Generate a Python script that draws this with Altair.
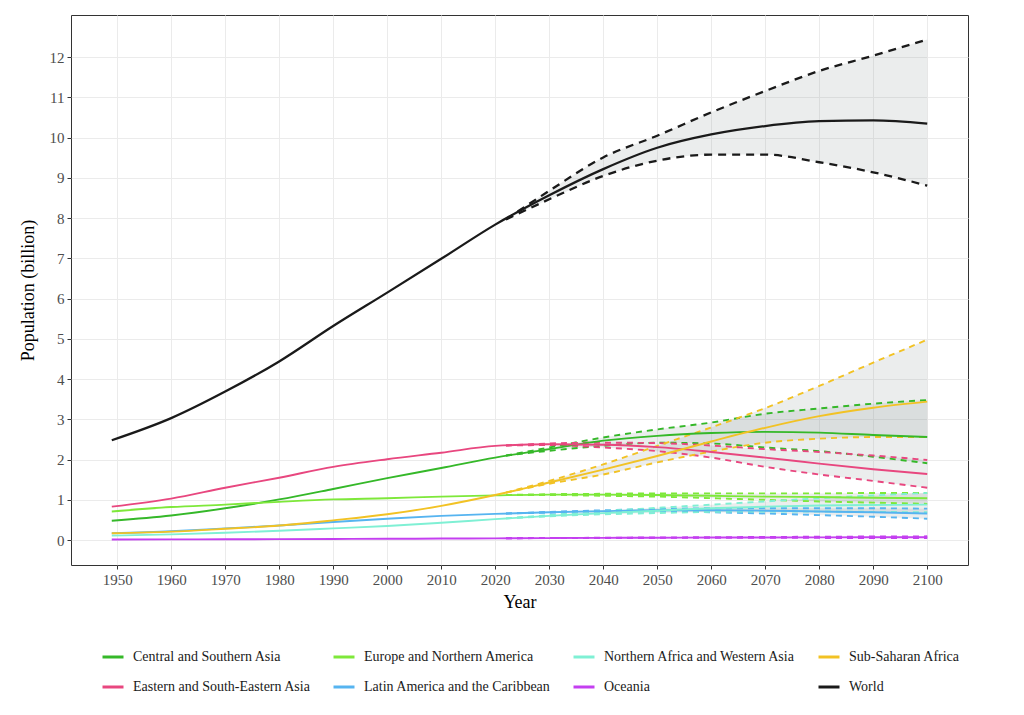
import altair as alt
import pandas as pd

# ---------------- data (billions) ----------------
series_order = [
    "Central and Southern Asia", "Eastern and South-Eastern Asia",
    "Europe and Northern America", "Latin America and the Caribbean",
    "Northern Africa and Western Asia", "Oceania",
    "Sub-Saharan Africa", "World",
]
series_colors = ["#35b829", "#e8477f", "#7ee83a", "#56b4f0",
                 "#7ff0d4", "#c43ff0", "#f2c224", "#1a1a1a"]

years_med = [1949, 1960, 1970, 1980, 1990, 2000, 2010, 2020,
             2030, 2040, 2050, 2060, 2070, 2080, 2090, 2100]
years_band = [2022, 2030, 2040, 2050, 2060, 2070, 2080, 2090, 2100]

world_med = [2.48, 3.03, 3.69, 4.44, 5.32, 6.15, 6.99, 7.84,
             8.57, 9.22, 9.75, 10.08, 10.29, 10.41, 10.43, 10.35]
world_up = [7.97, 8.68, 9.51, 10.05, 10.63, 11.16, 11.66, 12.04, 12.44]
world_lo = [7.97, 8.47, 9.05, 9.43, 9.58, 9.58, 9.39, 9.14, 8.81]

csa_med = [0.48, 0.61, 0.79, 1.01, 1.27, 1.54, 1.79, 2.05,
           2.26, 2.47, 2.59, 2.66, 2.69, 2.67, 2.61, 2.56]
csa_up = [2.10, 2.30, 2.55, 2.75, 2.92, 3.14, 3.27, 3.39, 3.48]
csa_lo = [2.10, 2.22, 2.34, 2.42, 2.40, 2.30, 2.21, 2.07, 1.91]

esa_med = [0.83, 1.03, 1.30, 1.55, 1.82, 2.01, 2.17, 2.34,
           2.38, 2.37, 2.31, 2.19, 2.05, 1.90, 1.76, 1.64]
esa_up = [2.35, 2.40, 2.42, 2.41, 2.35, 2.26, 2.19, 2.10, 1.99]
esa_lo = [2.35, 2.36, 2.30, 2.21, 2.05, 1.82, 1.63, 1.47, 1.30]

ena_med = [0.71, 0.82, 0.88, 0.95, 1.01, 1.04, 1.08, 1.11,
           1.13, 1.13, 1.12, 1.10, 1.08, 1.07, 1.05, 1.04]
ena_up = [1.12, 1.14, 1.15, 1.16, 1.16, 1.16, 1.16, 1.17, 1.17]
ena_lo = [1.12, 1.12, 1.10, 1.08, 1.04, 1.00, 0.96, 0.93, 0.90]

lac_med = [0.17, 0.22, 0.29, 0.36, 0.45, 0.53, 0.60, 0.65,
           0.69, 0.72, 0.74, 0.74, 0.73, 0.71, 0.69, 0.66]
lac_up = [0.66, 0.70, 0.74, 0.77, 0.79, 0.79, 0.79, 0.79, 0.78]
lac_lo = [0.66, 0.68, 0.70, 0.71, 0.69, 0.66, 0.62, 0.58, 0.53]

nawa_med = [0.11, 0.14, 0.18, 0.23, 0.29, 0.35, 0.43, 0.52,
            0.60, 0.67, 0.73, 0.79, 0.83, 0.86, 0.87, 0.88]
nawa_up = [0.54, 0.62, 0.72, 0.80, 0.88, 0.96, 1.04, 1.11, 1.17]
nawa_lo = [0.54, 0.59, 0.64, 0.67, 0.70, 0.71, 0.71, 0.70, 0.69]

ssa_med = [0.17, 0.21, 0.28, 0.36, 0.49, 0.64, 0.85, 1.12,
           1.43, 1.75, 2.09, 2.45, 2.79, 3.08, 3.29, 3.44]
ssa_up = [1.18, 1.47, 1.88, 2.34, 2.80, 3.28, 3.83, 4.41, 4.98]
ssa_lo = [1.18, 1.40, 1.63, 1.93, 2.20, 2.42, 2.52, 2.56, 2.56]

oce_med = [0.013, 0.016, 0.020, 0.023, 0.027, 0.031, 0.037, 0.043,
           0.049, 0.054, 0.058, 0.062, 0.065, 0.067, 0.068, 0.069]
oce_up = [0.045, 0.051, 0.058, 0.065, 0.071, 0.077, 0.083, 0.088, 0.093]
oce_lo = [0.045, 0.048, 0.051, 0.053, 0.054, 0.054, 0.053, 0.052, 0.050]

x_ticks = list(range(1950, 2101, 10))
y_ticks = list(range(0, 13))

# ---------------- tables ----------------
series_data = {
    "Central and Southern Asia": (csa_med, csa_lo, csa_up),
    "Eastern and South-Eastern Asia": (esa_med, esa_lo, esa_up),
    "Europe and Northern America": (ena_med, ena_lo, ena_up),
    "Latin America and the Caribbean": (lac_med, lac_lo, lac_up),
    "Northern Africa and Western Asia": (nawa_med, nawa_lo, nawa_up),
    "Oceania": (oce_med, oce_lo, oce_up),
    "Sub-Saharan Africa": (ssa_med, ssa_lo, ssa_up),
    "World": (world_med, world_lo, world_up),
}

med_rows, band_rows = [], []
for name, (med, lo, up) in series_data.items():
    for yr, v in zip(years_med, med):
        med_rows.append({"series": name, "year": yr, "value": v})
    for yr, l, u in zip(years_band, lo, up):
        band_rows.append({"series": name, "year": yr, "lower": l, "upper": u})
med_df = pd.DataFrame(med_rows)
band_df = pd.DataFrame(band_rows)

FONT = "Liberation Serif"

x_enc = alt.X("year:Q",
              scale=alt.Scale(domain=[1941.45, 2107.55], nice=False, zero=False),
              axis=alt.Axis(values=x_ticks, format="d", title="Year"))
y_scale = alt.Scale(domain=[-0.62, 13.05], nice=False, zero=False)
color_scale = alt.Scale(domain=series_order, range=series_colors)

is_world = alt.datum.series == "World"

band = alt.Chart(band_df).mark_area(
    interpolate="monotone", color="#8a9696", opacity=0.17
).encode(
    x=x_enc,
    y=alt.Y("lower:Q", scale=y_scale,
            axis=alt.Axis(values=y_ticks, title="Population (billion)")),
    y2="upper:Q",
    detail="series:N",
)

def dashed(field):
    return alt.Chart(band_df).mark_line(interpolate="monotone").encode(
        x=x_enc,
        y=alt.Y(f"{field}:Q", scale=y_scale),
        stroke=alt.Stroke("series:N", scale=color_scale, legend=None),
        detail="series:N",
        strokeWidth=alt.condition(is_world, alt.value(2.3), alt.value(1.9)),
        strokeDash=alt.condition(is_world, alt.value([8, 6]), alt.value([6, 5])),
    )

median = alt.Chart(med_df).mark_line(interpolate="monotone").encode(
    x=x_enc,
    y=alt.Y("value:Q", scale=y_scale),
    color=alt.Color("series:N", scale=color_scale, sort=series_order,
                    legend=alt.Legend(title=None, orient="none", columns=4,
                                      legendX=30, legendY=630,
                                      symbolType="stroke", symbolSize=441,
                                      symbolStrokeWidth=3, padding=0,
                                      labelFont=FONT, labelFontSize=14,
                                      labelColor="#1a1a1a", labelOffset=8,
                                      labelLimit=400,
                                      rowPadding=11, columnPadding=16)),
    strokeWidth=alt.condition(is_world, alt.value(2.3), alt.value(1.9)),
)

chart = alt.layer(band, dashed("lower"), dashed("upper"), median).resolve_scale(
    color="independent", stroke="independent"
).properties(
    width=897, height=550,
    autosize=alt.AutoSizeParams(type="none"),
    padding={"left": 63, "top": 7, "right": 40, "bottom": 135},
).configure_view(
    stroke="#333333", strokeWidth=1
).configure_axis(
    grid=True, gridColor="#ebebeb", gridWidth=1,
    domain=False, ticks=True, tickColor="#333333", tickSize=4, tickWidth=1,
    labelFont=FONT, labelFontSize=15, labelColor="#4d4d4d", labelPadding=3,
    titleFont=FONT, titleFontSize=18, titleFontWeight="normal", titleColor="#000000",
).configure_axisX(
    titlePadding=6
).configure_axisY(
    titlePadding=12
)

chart.save("out.html", embed_options={"renderer": "svg", "actions": False})
